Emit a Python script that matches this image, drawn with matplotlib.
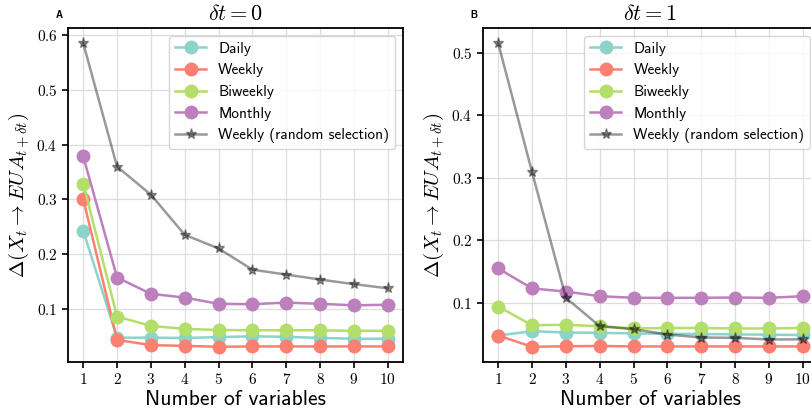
import matplotlib
matplotlib.use("Agg")
import matplotlib.pyplot as plt
from matplotlib.ticker import FuncFormatter

n_vars = [1, 2, 3, 4, 5, 6, 7, 8, 9, 10]
series_names = ["Daily", "Weekly", "Biweekly", "Monthly", "Weekly (random selection)"]
titles = [r"$\delta t = 0$", r"$\delta t = 1$"]
panel_letters = ["A", "B"]

# delta t = 0
dt0_daily = [0.243, 0.048, 0.048, 0.0475, 0.049, 0.0505, 0.0495, 0.0475, 0.046, 0.046]
dt0_weekly = [0.301, 0.044, 0.0343, 0.0331, 0.0313, 0.032, 0.032, 0.032, 0.032, 0.032]
dt0_biweekly = [0.329, 0.0865, 0.0695, 0.064, 0.062, 0.0615, 0.0615, 0.0615, 0.0605, 0.0605]
dt0_monthly = [0.3785, 0.1577, 0.128, 0.121, 0.1097, 0.109, 0.112, 0.1097, 0.107, 0.108]
dt0_random = [0.585, 0.360, 0.3086, 0.2356, 0.2106, 0.172, 0.163, 0.154, 0.1456, 0.138]

# delta t = 1
dt1_daily = [0.0477, 0.0546, 0.0525, 0.052, 0.051, 0.0505, 0.050, 0.0495, 0.049, 0.0485]
dt1_weekly = [0.0477, 0.0296, 0.0305, 0.031, 0.0302, 0.0302, 0.0302, 0.0302, 0.0302, 0.0302]
dt1_biweekly = [0.094, 0.0642, 0.0648, 0.0626, 0.059, 0.0597, 0.0597, 0.059, 0.059, 0.0597]
dt1_monthly = [0.155, 0.123, 0.118, 0.1106, 0.108, 0.108, 0.108, 0.1085, 0.108, 0.1106]
dt1_random = [0.5154, 0.309, 0.108, 0.0626, 0.0578, 0.0493, 0.0445, 0.044, 0.0413, 0.0416]

colors = ["#8dd3c7", "#fb8072", "#b3de69", "#bc80bd"]

plt.rcParams["mathtext.fontset"] = "cm"

fig = plt.figure(figsize=(8.11, 4.18), dpi=100)
W, H = 811, 418
ax_w, ax_h = 335, 334
lefts = [68, 483]
top = 28

panels = [
    [dt0_daily, dt0_weekly, dt0_biweekly, dt0_monthly, dt0_random],
    [dt1_daily, dt1_weekly, dt1_biweekly, dt1_monthly, dt1_random],
]

for i, data in enumerate(panels):
    ax = fig.add_axes([lefts[i] / W, 1 - (top + ax_h) / H, ax_w / W, ax_h / H])
    for j in range(4):
        ax.plot(n_vars, data[j], color=colors[j], marker="o", markersize=9,
                linewidth=1.8, label=series_names[j])
    ax.plot(n_vars, data[4], color="black", alpha=0.4, marker="*", markersize=8,
            linewidth=1.8, label=series_names[4])
    ax.set_xticks(n_vars)
    ax.xaxis.set_major_formatter(FuncFormatter(lambda v, p: r"$%d$" % v))
    ax.yaxis.set_major_formatter(FuncFormatter(lambda v, p: r"$%.1f$" % v))
    ax.tick_params(labelsize=11, length=4, width=1.2, direction="out")
    ax.grid(True, color="#dddddd", linewidth=0.9)
    ax.set_axisbelow(True)
    for s in ax.spines.values():
        s.set_linewidth(1.3)
    ax.set_xlabel("Number of variables", family="cmss10", fontsize=15.5, labelpad=2)
    ax.set_ylabel(r"$\Delta(X_t \rightarrow EUA_{t+\delta t})$", fontsize=15, labelpad=4)
    ax.set_title(titles[i], fontsize=16, pad=6)
    ax.legend(loc="upper right", prop={"family": "cmss10", "size": 11},
              framealpha=0.8, edgecolor="#cccccc", borderaxespad=0.5)
    fig.text((lefts[i] - 9) / W, 1 - 15 / H, panel_letters[i], fontsize=7,
             fontweight="bold", family="Liberation Sans", ha="center", va="center")

fig.savefig("out.png", dpi=100)
